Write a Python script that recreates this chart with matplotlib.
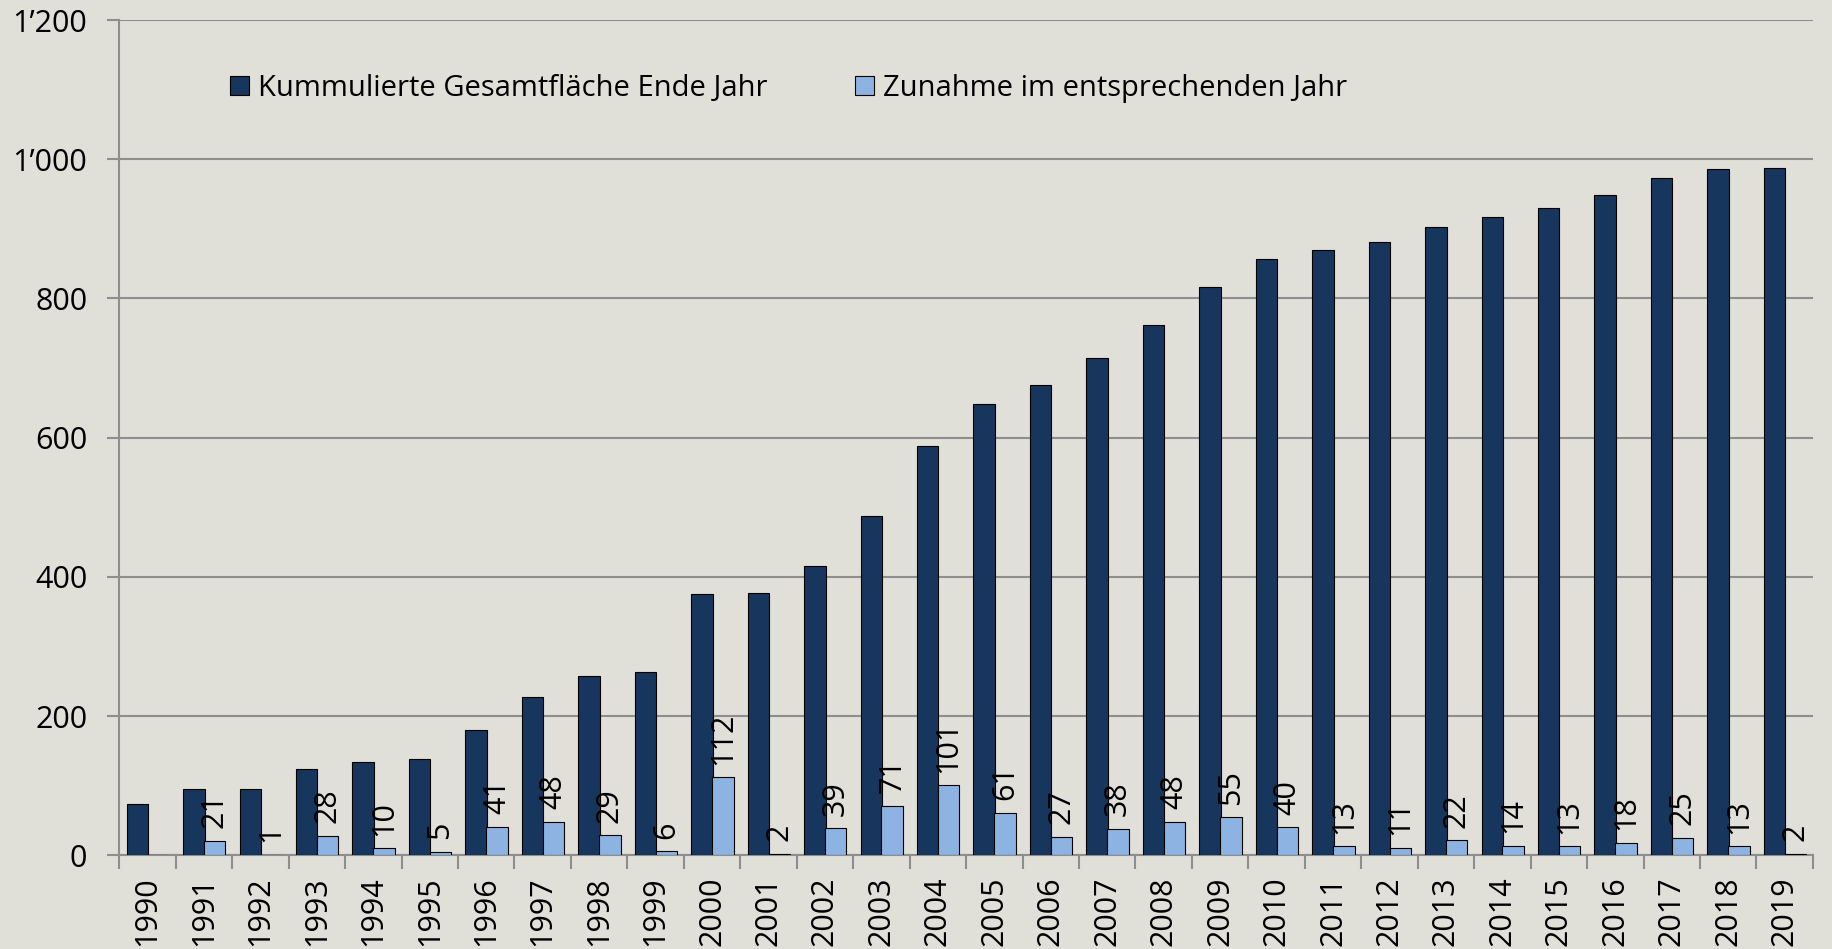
import matplotlib.pyplot as plt
import numpy as np

years = [str(y) for y in range(1990, 2020)]
kumuliert = [74, 95, 96, 124, 134, 139, 180, 228, 257, 263,
             375, 377, 416, 487, 588, 649, 676, 714, 762, 817,
             857, 870, 881, 903, 917, 930, 948, 973, 986, 988]
zunahme = [None, 21, 1, 28, 10, 5, 41, 48, 29, 6,
           112, 2, 39, 71, 101, 61, 27, 38, 48, 55,
           40, 13, 11, 22, 14, 13, 18, 25, 13, 2]
y_ticks = [0, 200, 400, 600, 800, 1000, 1200]
y_labels = ["0", "200", "400", "600", "800", "1\u2019000", "1\u2019200"]

bg = "#E0DFD8"
dark = "#17365D"
light = "#8DB3E2"
grid_col = "#8E8E8E"

plt.rcParams['font.family'] = ['Open Sans', 'DejaVu Sans']

fig = plt.figure(figsize=(18.32, 9.49), dpi=100, facecolor=bg)
ax = fig.add_axes([0.0651, 0.0987, 0.9245, 0.8802])
ax.set_facecolor(bg)

x = np.arange(len(years))
w = 0.38
zun = np.array([0 if v is None else v for v in zunahme])

ax.bar(x - 0.18, kumuliert, width=w, color=dark, edgecolor="black",
       linewidth=0.8, label="Kummulierte Gesamtfläche Ende Jahr", zorder=3)
ax.bar(x + 0.19, zun, width=w, color=light, edgecolor="black",
       linewidth=0.8, label="Zunahme im entsprechenden Jahr", zorder=3)

# Beschriftung der Zunahme, senkrecht ueber den hellen Balken
for i, v in enumerate(zunahme):
    if v is None:
        continue
    ax.annotate(str(v), (x[i] + 0.19, v), xytext=(0, 9),
                textcoords="offset points", rotation=90,
                ha="center", va="bottom", fontsize=22, zorder=4)

ax.set_xlim(-0.5, len(years) - 0.5)
ax.set_ylim(0, 1200)
ax.set_yticks(y_ticks)
ax.set_yticklabels(y_labels, fontsize=22)
ax.yaxis.grid(True, color=grid_col, linewidth=1.5, zorder=0)
ax.set_axisbelow(True)

ax.set_xticks(x)
ax.set_xticklabels(years, rotation=90, fontsize=22)
ax.tick_params(axis="x", length=0, pad=15)
ax.set_xticks(np.arange(-0.5, len(years)), minor=True)
ax.tick_params(axis="x", which="minor", length=10, width=1.5, color=grid_col)
ax.tick_params(axis="y", length=9, width=1.5, color=grid_col, pad=14)

for s in ["top", "right"]:
    ax.spines[s].set_visible(False)
for s in ["left", "bottom"]:
    ax.spines[s].set_color(grid_col)
    ax.spines[s].set_linewidth(1.5)

ax.legend(loc="upper left", bbox_to_anchor=(0.05, 0.967), ncol=2,
          frameon=False, fontsize=21, handlelength=0.65, handleheight=0.65,
          handletextpad=0.3, columnspacing=3.0)

fig.savefig("out.png", dpi=100, facecolor=bg)
